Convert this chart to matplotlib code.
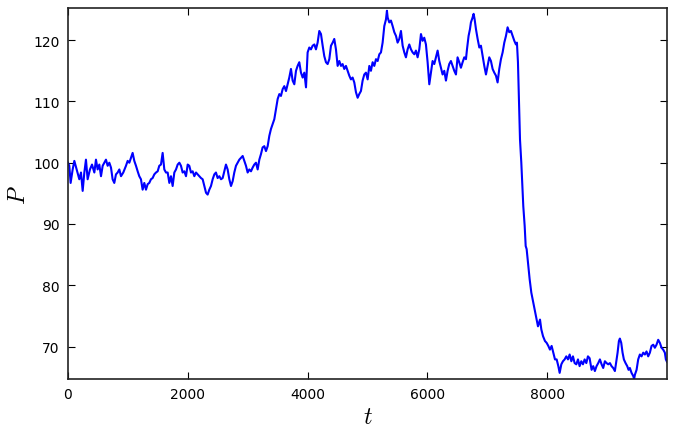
import matplotlib
matplotlib.use("Agg")
import matplotlib.pyplot as plt

plt.rcParams['mathtext.fontset'] = 'cm'
plt.rcParams['font.family'] = ['DejaVu Sans']

t = [0, 22, 44, 78, 106, 145, 189, 217, 245, 273, 300, 328, 367, 401, 440, 467, 495, 523, 551, 579,
     606, 634, 662, 690, 718, 745, 773, 801, 829, 857, 885, 923, 968, 996, 1024, 1051, 1079, 1107, 1135, 1163,
     1190, 1218, 1246, 1274, 1302, 1330, 1357, 1385, 1413, 1441, 1469, 1497, 1524, 1552, 1580, 1608, 1636,
     1664, 1692, 1719, 1747, 1775, 1803, 1831, 1859, 1886, 1914, 1942, 1970, 1998, 2025, 2053, 2081, 2109,
     2137, 2164, 2192, 2220, 2248, 2276, 2304, 2331, 2359, 2387, 2415, 2443, 2470, 2498, 2526, 2554, 2582,
     2610, 2637, 2665, 2693, 2721, 2749, 2776, 2804, 2832, 2860, 2888, 2916, 2943, 2971, 2999, 3027, 3055,
     3082, 3110, 3138, 3166, 3194, 3221, 3249, 3277, 3305,
     3333, 3361, 3388, 3416, 3444, 3472, 3500, 3528, 3555, 3583, 3611, 3639, 3667, 3694, 3722, 3750, 3778,
     3806, 3833, 3861, 3889, 3917, 3945, 3973, 4000, 4028, 4056, 4084, 4112, 4139, 4167, 4195, 4223, 4251,
     4278, 4306, 4334, 4362, 4390, 4418, 4445, 4473, 4501, 4529, 4557, 4584, 4612, 4640, 4668, 4696, 4723,
     4751, 4779, 4807, 4835, 4862, 4890, 4918, 4946, 4974,
     5002, 5030, 5057, 5085, 5113, 5141, 5169, 5197, 5224, 5252, 5280, 5308, 5324, 5336, 5363, 5391, 5419,
     5447, 5475, 5502, 5530, 5558, 5586, 5614, 5641, 5669, 5697, 5725, 5753, 5781, 5808, 5836, 5864, 5892,
     5920, 5947, 5975, 6003, 6031, 6059, 6086, 6114, 6142, 6170, 6198, 6225, 6253, 6281, 6309, 6337, 6364,
     6392, 6420, 6448, 6476, 6503, 6531, 6559, 6587, 6615, 6643,
     6660, 6687, 6710, 6726, 6754, 6771, 6788, 6810, 6838, 6866, 6893, 6921, 6949, 6977, 7005, 7032, 7060,
     7088, 7116, 7144, 7171, 7199, 7227, 7255, 7283, 7311, 7338, 7366, 7394, 7422, 7450, 7477, 7494, 7511,
     7530, 7545, 7567, 7584, 7600, 7623, 7640, 7656, 7667, 7684, 7706, 7734, 7762, 7790, 7817, 7845, 7879,
     7901, 7929, 7962, 7990, 8018, 8045, 8073, 8101, 8129, 8157, 8185, 8207, 8235, 8262, 8290, 8318, 8346,
     8374, 8402, 8429, 8457, 8485, 8513, 8540, 8568, 8596, 8624, 8652, 8679, 8707,
     8740, 8767, 8795, 8823, 8851, 8879, 8907, 8934, 8962, 8990, 9018, 9046, 9073, 9101, 9129, 9157, 9174,
     9196, 9212, 9235, 9257, 9279, 9307, 9335, 9357, 9379, 9407, 9435, 9450, 9463, 9491, 9518, 9546, 9574,
     9602, 9630, 9657, 9685, 9713, 9741, 9769, 9796, 9824, 9852, 9880, 9908, 9935, 9963, 9980, 9999]

P = [100.0, 99.5, 96.7, 98.9, 100.3, 98.9, 97.3, 98.4, 95.4, 98.4, 100.5, 97.3, 98.9, 99.7, 98.4, 100.5, 98.9, 99.7, 97.8, 99.5,
     100.0, 100.5, 99.5, 100.0, 99.2, 97.3, 96.7, 98.1, 98.4, 98.9, 97.8, 98.4, 99.5, 100.3, 100.0, 100.8, 101.6, 100.3, 99.5, 98.6,
     97.8, 97.3, 95.6, 96.7, 95.6, 96.5, 96.7, 97.3, 97.5, 98.1, 98.4, 98.6, 99.5, 99.7, 101.6, 98.9, 98.4,
     98.4, 96.7, 97.8, 96.2, 98.4, 98.9, 99.7, 100.0, 99.5, 98.4, 98.6, 97.8, 99.7, 99.5, 98.4, 98.6, 97.8,
     98.4, 98.1, 97.8, 97.5, 97.3, 96.2, 95.1, 94.8, 95.6, 96.2, 97.3, 98.1, 98.4, 97.5, 97.8, 97.3, 97.5,
     98.6, 99.7, 98.9, 97.3, 96.2, 97.0, 98.4, 99.5, 100.0, 100.5, 100.8, 101.1, 100.3, 99.5, 98.4, 98.9, 98.6,
     99.2, 99.7, 100.0, 98.9, 100.5, 101.4, 102.5, 102.7, 101.9,
     102.7, 104.4, 105.5, 106.3, 107.1, 108.7, 110.4, 111.2, 110.9, 112.0, 112.5, 111.7, 112.8, 113.9, 115.3, 113.4, 112.8,
     115.0, 115.8, 116.4, 114.7, 113.9, 114.7, 112.3, 118.0, 118.8, 118.5, 119.1, 119.3, 118.5, 119.6, 121.5, 121.0, 119.1,
     117.4, 116.4, 116.1, 116.9, 119.1, 119.6, 120.2, 118.5, 115.8, 116.6, 115.8, 116.1, 115.3, 115.8, 115.0, 114.2, 113.6,
     113.9, 113.1, 111.5, 110.6, 111.2, 111.7, 113.4, 114.4, 114.7,
     113.6, 115.8, 115.0, 116.4, 115.8, 116.9, 116.6, 117.7, 118.0, 119.6, 122.3, 123.4, 124.8, 123.7, 122.9, 123.2, 122.3,
     121.3, 120.7, 119.6, 120.2, 121.5, 119.1, 118.0, 117.2, 118.5, 119.3, 118.5, 118.0, 117.7, 118.3, 117.2, 118.5, 121.0,
     119.9, 120.4, 119.3, 116.4, 112.8, 114.7, 116.6, 116.1, 117.2, 118.3, 116.6, 115.5, 114.4, 115.0, 113.4, 115.0, 116.1,
     116.6, 115.8, 115.0, 114.4, 117.2, 116.4, 115.5, 116.4, 117.2, 116.9,
     118.5, 120.7, 121.8, 122.9, 123.7, 124.3, 123.4, 121.8, 120.2, 118.8, 119.1, 117.4, 115.8, 114.4, 115.8, 117.2, 116.6,
     115.3, 114.7, 114.2, 113.1, 115.3, 116.9, 118.0, 119.6, 120.7, 122.1, 121.3, 121.5, 120.7, 119.9, 119.3, 119.6, 116.4,
     109.5, 103.8, 100.0, 96.2, 92.9, 89.7, 86.4, 85.9, 84.8, 83.1, 81.0, 78.8, 77.4, 76.0, 74.7, 73.3, 74.4,
     72.8, 71.7, 70.9, 70.6, 70.1, 69.5, 70.1, 69.0, 67.9, 67.9, 66.8, 65.7, 67.1, 67.6, 67.9, 68.4, 67.9,
     68.7, 67.6, 68.4, 67.3, 67.1, 67.9, 66.8, 67.6, 67.1, 67.9, 67.3, 68.4, 68.1,
     66.2, 66.8, 66.0, 66.8, 67.3, 67.9, 67.1, 66.5, 67.6, 67.3, 67.1, 67.3, 66.8, 66.5, 66.0, 67.9, 69.0,
     70.9, 71.3, 70.6, 69.0, 67.9, 67.3, 66.8, 66.2, 66.5, 65.7, 65.2, 64.7, 65.4, 66.2, 67.9, 68.7, 68.4,
     69.0, 68.7, 69.2, 68.4, 69.0, 70.1, 70.3, 69.8, 70.3, 71.1, 70.6, 69.8, 69.5, 69.0, 67.9, 67.5]

x_ticks = [0, 2000, 4000, 6000, 8000]
y_ticks = [70, 80, 90, 100, 110, 120]

fig = plt.figure(figsize=(6.98, 4.35), dpi=100)
ax = fig.add_axes([0.0974, 0.1264, 0.9556 - 0.0974, 0.9786 - 0.1264])
ax.plot(t, P, color='blue', linewidth=1.5)
ax.set_xlim(0, 9999)
ax.set_ylim(64.7, 125.2)
ax.set_xticks(x_ticks)
ax.set_yticks(y_ticks)
ax.tick_params(direction='in', top=True, right=True, length=5, width=0.8, labelsize=10, pad=6)
for s in ax.spines.values():
    s.set_linewidth(1.2)
    s.set_color('#222222')
ax.set_xlabel(r'$t$', fontsize=17, labelpad=2)
ax.set_ylabel(r'$P$', fontsize=17, labelpad=2)
fig.savefig('out.png', dpi=100)
